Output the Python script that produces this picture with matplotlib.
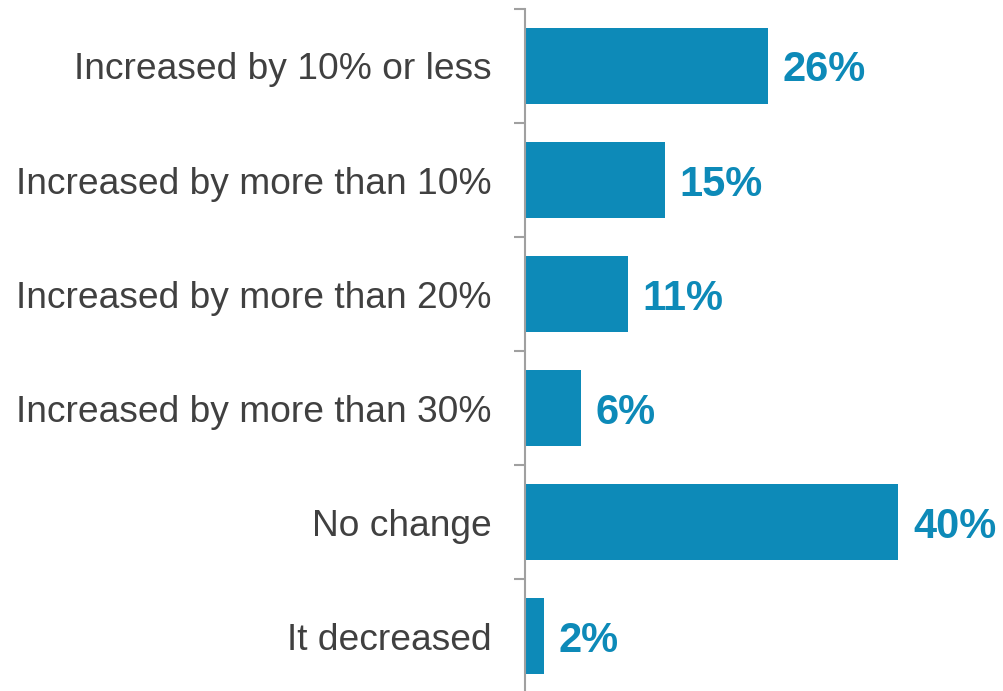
import matplotlib.pyplot as plt

categories = ['Increased by 10% or less', 'Increased by more than 10%',
              'Increased by more than 20%', 'Increased by more than 30%',
              'No change', 'It decreased']
values = [26, 15, 11, 6, 40, 2]

blue = '#0D8AB8'

plt.rcParams['font.family'] = ['Liberation Sans', 'DejaVu Sans']

fig = plt.figure(figsize=(10.04, 6.91), dpi=100)
ax = fig.add_axes([0.5229, -0.003, 0.465, 0.990])

pos = list(range(len(categories)))
bars = ax.barh(pos, values, height=0.667, color=blue)
ax.set_xlim(0, 50)
ax.set_ylim(len(categories) - 0.5, -0.5)

for y, v in zip(pos, values):
    ax.annotate(f'{v}%', xy=(v, y), xytext=(10.5, 0), textcoords='offset points',
                va='center_baseline', ha='left', fontsize=30, fontweight='bold',
                color=blue)

ax.set_yticks(pos)
ax.set_yticklabels(categories, fontsize=26.7, color='#404040')
ax.tick_params(axis='y', which='major', length=0, pad=23.8)
ax.set_yticks([p - 0.5 for p in pos] + [len(pos) - 0.5], minor=True)
ax.tick_params(axis='y', which='minor', length=8, width=1.5, color='#A0A0A0')
ax.set_xticks([])

for s in ['top', 'right', 'bottom']:
    ax.spines[s].set_visible(False)
ax.spines['left'].set_color('#A0A0A0')
ax.spines['left'].set_linewidth(1.5)

fig.savefig('out.png', dpi=100)
